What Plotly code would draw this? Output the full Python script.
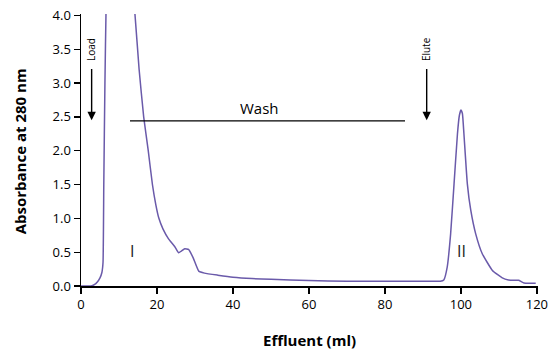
import plotly.graph_objects as go

# Effluent volume (ml) and absorbance at 280 nm
effluent_ml = [0, 2.6, 3.5, 4.3, 5.0, 5.5, 5.8, 6.0, 6.3, 6.6, 7.0, 9.0, 11.5, 13.5, 14.2,
               15.3, 16.5, 17.7, 18.8, 19.7, 20.5, 21.6, 23.0, 24.7, 25.7, 26.5, 27.3,
               28.3, 29.5, 31.0, 32.5, 36, 40, 45, 50, 60, 70, 80, 90, 94.0,
               94.6, 95.5, 96.4, 97.3, 98.2, 99.1, 99.6, 100.0, 100.4, 100.8, 101.7,
               102.6, 103.9, 105.6, 108.3, 110.9, 112.5, 114.4, 115.2, 116.0, 116.6,
               118.0, 119.7]
absorbance = [0, 0, 0.02, 0.06, 0.12, 0.2, 0.35, 1.5, 3.0, 4.1, 4.8, 5.4, 5.0, 4.4, 4.02,
              3.2, 2.5, 2.0, 1.5, 1.2, 1.0, 0.84, 0.7, 0.58, 0.49, 0.52, 0.55,
              0.54, 0.42, 0.22, 0.19, 0.16, 0.13, 0.11, 0.1, 0.08, 0.07, 0.07, 0.07, 0.07,
              0.07, 0.09, 0.28, 0.77, 1.51, 2.25, 2.52, 2.6, 2.55, 2.25, 1.51,
              1.12, 0.77, 0.48, 0.23, 0.12, 0.09, 0.085, 0.085, 0.06, 0.045,
              0.04, 0.04]

x_ticks = [0, 20, 40, 60, 80, 100, 120]
y_ticks = [0.0, 0.5, 1.0, 1.5, 2.0, 2.5, 3.0, 3.5, 4.0]
y_tick_labels = ["0.0", "0.5", "1.0", "1.5", "2.0", "2.5", "3.0", "3.5", "4.0"]

wash_start, wash_end, wash_level = 12.9, 85.3, 2.44
load_x, elute_x = 2.8, 91.0
arrow_top, arrow_tip = 3.23, 2.45

FONT = "Open Sans"
curve_color = "#6a5aaa"

fig = go.Figure()
fig.add_trace(go.Scatter(x=effluent_ml, y=absorbance, mode="lines",
                         line=dict(color=curve_color, width=1.5, shape="spline", smoothing=0.4),
                         hoverinfo="skip", showlegend=False))

fig.add_shape(type="line", x0=wash_start, x1=wash_end, y0=wash_level, y1=wash_level,
              xref="x", yref="y", line=dict(color="black", width=1.3))

annotations = [
    dict(x=47, y=2.63, text="Wash", showarrow=False, font=dict(size=15, color="black", family=FONT)),
    dict(x=13.4, y=0.52, text="I", showarrow=False, font=dict(size=16, color="#222222", family=FONT)),
    dict(x=100.2, y=0.52, text="II", showarrow=False, font=dict(size=16, color="#222222", family=FONT)),
    dict(x=load_x - 0.2, y=3.5, text="Load", textangle=-90, showarrow=False,
         font=dict(size=10, color="black", family=FONT)),
    dict(x=elute_x - 0.2, y=3.5, text="Elute", textangle=-90, showarrow=False,
         font=dict(size=10, color="black", family=FONT)),
    dict(x=load_x, y=arrow_tip, ax=load_x, ay=arrow_top, xref="x", yref="y", axref="x", ayref="y",
         text="", showarrow=True, arrowhead=2, arrowsize=1.2, arrowwidth=1.4, arrowcolor="black"),
    dict(x=elute_x, y=arrow_tip, ax=elute_x, ay=arrow_top, xref="x", yref="y", axref="x", ayref="y",
         text="", showarrow=True, arrowhead=2, arrowsize=1.2, arrowwidth=1.4, arrowcolor="black"),
    dict(x=0.501, y=-0.2, xref="paper", yref="paper", xanchor="center", yanchor="middle",
         text="<b>Effluent (ml)</b>", showarrow=False,
         font=dict(size=15, color="black", family=FONT)),
    dict(x=-0.1335, y=0.495, xref="paper", yref="paper", xanchor="center", yanchor="middle",
         text="<b>Absorbance at 280 nm</b>", textangle=-90, showarrow=False,
         font=dict(size=15, color="black", family=FONT)),
]

fig.update_layout(
    width=550, height=349,
    margin=dict(l=81, r=12, t=14, b=63),
    paper_bgcolor="white", plot_bgcolor="white",
    font=dict(family=FONT, color="black", size=13),
    annotations=annotations,
    xaxis=dict(range=[0, 120.3], tickvals=x_ticks, ticks="outside", ticklen=6, tickwidth=1.3,
               tickcolor="black", showline=True, linecolor="black", linewidth=1.5,
               showgrid=False, zeroline=False, tickfont=dict(size=13, family=FONT),
               automargin=False, ticklabeloverflow="allow"),
    yaxis=dict(range=[0, 4.02], tickvals=y_ticks, ticktext=y_tick_labels, ticks="outside",
               ticklen=6, tickwidth=1.3, tickcolor="black", showline=True, linecolor="black",
               linewidth=1.5, showgrid=False, zeroline=False, tickfont=dict(size=13, family=FONT),
               automargin=False, ticklabeloverflow="allow"),
)

# remove the browser's default 8 px page margin so the figure fills the window
fig.write_html("out.html",
               config={"displayModeBar": False, "staticPlot": True},
               post_script="document.body.style.margin='0';document.body.style.overflow='hidden';")
